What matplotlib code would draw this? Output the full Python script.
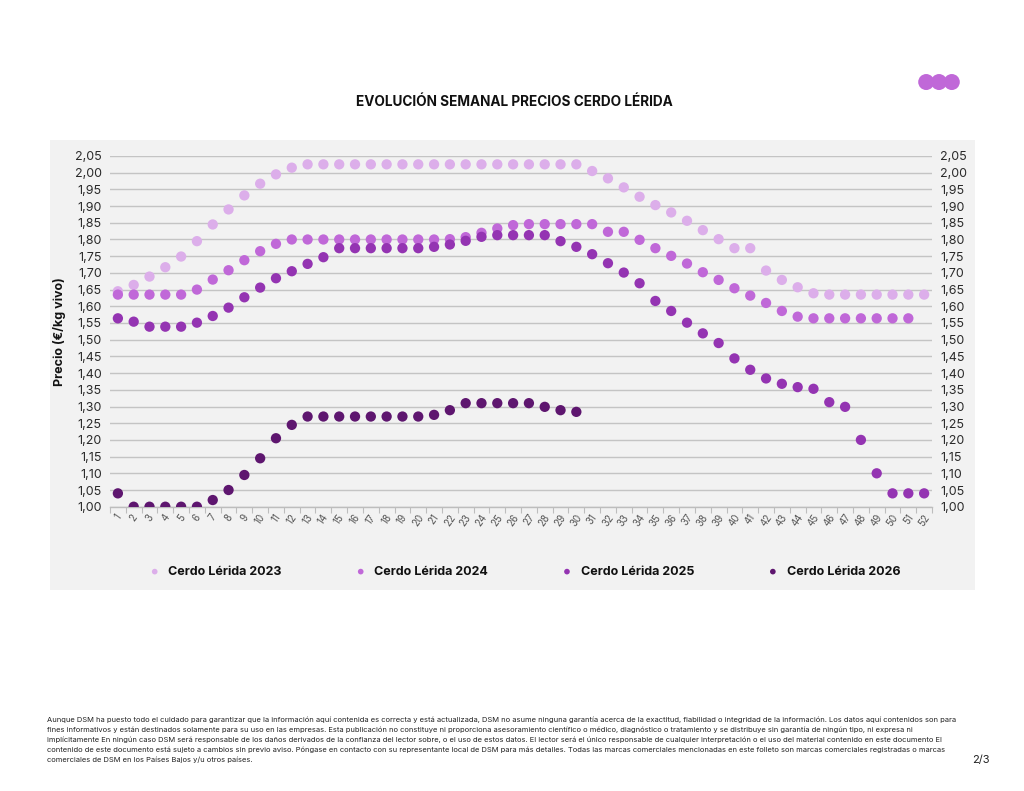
import matplotlib
matplotlib.use("Agg")
import matplotlib.pyplot as plt
from matplotlib.patches import Rectangle, Circle
from matplotlib.ticker import FixedLocator, FuncFormatter
import numpy as np

plt.rcParams['font.family'] = ['Inter', 'DejaVu Sans']

weeks = [str(i) for i in range(1, 53)]

cerdo_2023 = [1.645, 1.664, 1.689, 1.717, 1.749, 1.795, 1.845, 1.890, 1.932, 1.967,
              1.995, 2.015, 2.025, 2.025, 2.025, 2.025, 2.025, 2.025, 2.025, 2.025,
              2.025, 2.025, 2.025, 2.025, 2.025, 2.025, 2.025, 2.025, 2.025, 2.025,
              2.005, 1.983, 1.956, 1.928, 1.903, 1.881, 1.856, 1.828, 1.801, 1.774,
              1.774, 1.707, 1.679, 1.657, 1.639, 1.635, 1.635, 1.635, 1.635, 1.635,
              1.635, 1.635]
cerdo_2024 = [1.635, 1.635, 1.635, 1.635, 1.635, 1.650, 1.680, 1.708, 1.738, 1.765,
              1.787, 1.800, 1.800, 1.800, 1.800, 1.800, 1.800, 1.800, 1.800, 1.800,
              1.800, 1.801, 1.807, 1.820, 1.833, 1.843, 1.846, 1.846, 1.846, 1.846,
              1.846, 1.823, 1.823, 1.799, 1.774, 1.751, 1.728, 1.702, 1.679, 1.654,
              1.632, 1.610, 1.586, 1.569, 1.564, 1.564, 1.564, 1.564, 1.564, 1.564,
              1.564]
cerdo_2025 = [1.564, 1.554, 1.539, 1.539, 1.539, 1.551, 1.571, 1.596, 1.627, 1.656,
              1.684, 1.705, 1.727, 1.747, 1.774, 1.774, 1.774, 1.774, 1.774, 1.774,
              1.778, 1.785, 1.796, 1.808, 1.813, 1.813, 1.813, 1.813, 1.795, 1.778,
              1.756, 1.729, 1.701, 1.669, 1.616, 1.586, 1.551, 1.519, 1.490, 1.444,
              1.410, 1.384, 1.368, 1.358, 1.353, 1.313, 1.299, 1.200, 1.100, 1.040,
              1.040, 1.040]
cerdo_2026 = [1.040, 1.000, 1.000, 1.000, 1.000, 1.000, 1.020, 1.050, 1.095, 1.145,
              1.205, 1.245, 1.270, 1.270, 1.270, 1.270, 1.270, 1.270, 1.270, 1.270,
              1.275, 1.289, 1.310, 1.310, 1.310, 1.310, 1.310, 1.299, 1.289, 1.284]

series_labels = ["Cerdo Lérida 2023", "Cerdo Lérida 2024", "Cerdo Lérida 2025", "Cerdo Lérida 2026"]
series_values = [cerdo_2023, cerdo_2024, cerdo_2025, cerdo_2026]
colors = ["#dcaeea", "#c068d8", "#9434b2", "#5e166f"]

y_ticks = [round(1.00 + 0.05 * i, 2) for i in range(22)]

fig = plt.figure(figsize=(10.24, 7.91), dpi=100)
fig.patch.set_facecolor("white")

# grey panel
fig.patches.append(Rectangle((0.0488, 0.2541), 0.9033, 0.5689, transform=fig.transFigure,
                             facecolor="#f2f2f2", edgecolor="none", zorder=-10))

ax = fig.add_axes([0.1074, 0.3594, 0.8028, 0.4434])
ax.set_facecolor("none")

for lab, vals, c in zip(series_labels, series_values, colors):
    xs = np.arange(len(vals))
    ax.scatter(xs, vals, s=55, color=c, edgecolors="none", label=lab, zorder=3)

ax.set_xlim(-0.5, len(weeks) - 0.5)
ax.set_ylim(1.0, 2.05)

fmt = FuncFormatter(lambda v, p: f"{v:.2f}".replace(".", ","))
ax.yaxis.set_major_locator(FixedLocator(y_ticks))
ax.yaxis.set_major_formatter(fmt)
ax.grid(axis="y", color="#c4c4c4", linewidth=1.0, zorder=0)
ax.set_axisbelow(True)
ax.tick_params(axis="y", length=0, labelsize=9, labelcolor="#2a2a2a", pad=6)

ax.set_xticks(np.arange(len(weeks)))
ax.set_xticklabels(weeks, rotation=55, fontsize=7, color="#555555", ha="center", va="top")
ax.set_xticks(np.arange(len(weeks) + 1) - 0.5, minor=True)
ax.tick_params(axis="x", which="major", length=0, pad=4)
ax.tick_params(axis="x", which="minor", length=4, color="#bdbdbd", width=0.8)

for s in ["top", "right", "left"]:
    ax.spines[s].set_visible(False)
ax.spines["bottom"].set_color("#bdbdbd")
ax.spines["bottom"].set_linewidth(1.0)

ax2 = ax.twinx()
ax2.set_ylim(ax.get_ylim())
ax2.yaxis.set_major_locator(FixedLocator(y_ticks))
ax2.yaxis.set_major_formatter(fmt)
ax2.tick_params(axis="y", length=0, labelsize=9, labelcolor="#2a2a2a", pad=6)
for s in ["top", "right", "left", "bottom"]:
    ax2.spines[s].set_visible(False)

ax.set_ylabel("Precio (€/kg vivo)", fontsize=9, fontweight="bold", color="#111111", labelpad=6)

leg = fig.legend(loc="center", bbox_to_anchor=(0.509, 0.277), ncol=4, frameon=False,
                 fontsize=9, markerscale=0.55, handletextpad=0.1, columnspacing=5.3,
                 scatterpoints=1)
for t in leg.get_texts():
    t.set_fontweight("bold")
    t.set_color("#111111")

fig.text(0.502, 0.871, "EVOLUCIÓN SEMANAL PRECIOS CERDO LÉRIDA", ha="center", va="center",
         fontsize=9.8, fontweight="bold", color="#111111")

# logo: three overlapping circles
for cx in [0.9045, 0.9170, 0.9295]:
    fig.patches.append(Circle((cx * 1024, 0.8963 * 791), 8, transform=None,
                              facecolor="#c068d8", edgecolor="none"))

footer = ("Aunque DSM ha puesto todo el cuidado para garantizar que la información aquí contenida es correcta y está actualizada, DSM no asume ninguna garantía acerca de la exactitud, fiabilidad o integridad de la información. Los datos aquí contenidos son para\n"
          "fines informativos y están destinados solamente para su uso en las empresas. Esta publicación no constituye ni proporciona asesoramiento científico o médico, diagnóstico o tratamiento y se distribuye sin garantía de ningún tipo, ni expresa ni\n"
          "implícitamente En ningún caso DSM será responsable de los daños derivados de la confianza del lector sobre, o el uso de estos datos. El lector será el único responsable de cualquier interpretación o el uso del material contenido en este documento El\n"
          "contenido de este documento está sujeto a cambios sin previo aviso. Póngase en contacto con su representante local de DSM para más detalles. Todas las marcas comerciales mencionadas en este folleto son marcas comerciales registradas o marcas\n"
          "comerciales de DSM en los Países Bajos y/u otros países.")
fig.text(0.046, 0.0948, footer, ha="left", va="top", fontsize=5.43, color="#222222",
         linespacing=1.65)
fig.text(0.958, 0.039, "2/3", ha="center", va="center", fontsize=8, color="#222222")

fig.savefig("out.png", dpi=100)
